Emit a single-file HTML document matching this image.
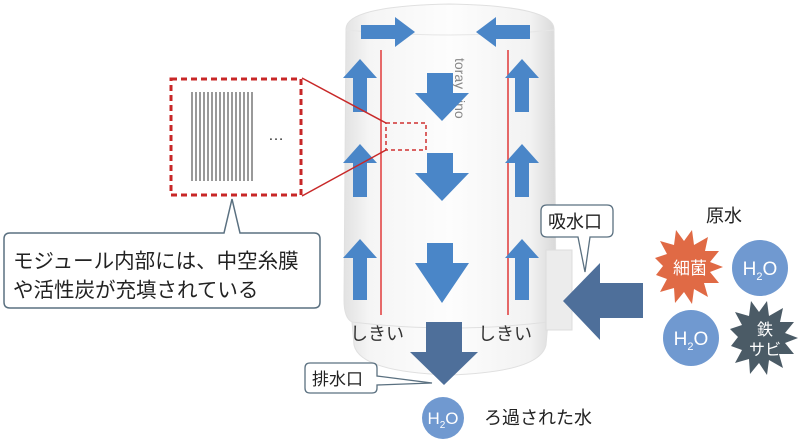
<!DOCTYPE html>
<html><head><meta charset="utf-8"><style>
html,body{margin:0;padding:0;background:#fff}
svg{display:block}
text{font-family:"Liberation Sans","Noto Sans CJK JP",sans-serif}
</style></head><body>
<svg width="800" height="447" viewBox="0 0 800 447" xmlns="http://www.w3.org/2000/svg">
<defs>
<linearGradient id="body" x1="0" x2="1" y1="0" y2="0">
<stop offset="0" stop-color="#e2e2e2"/><stop offset="0.12" stop-color="#f5f5f5"/><stop offset="0.5" stop-color="#fdfdfd"/><stop offset="0.88" stop-color="#f2f2f2"/><stop offset="1" stop-color="#d8d8d8"/>
</linearGradient>
</defs>
<!-- filter body -->
<path d="M346 30 Q344 6 450 4 Q556 6 554 30 L556 300 Q556 318 548 322 L546 345 Q540 372 450 375 Q360 372 354 345 L352 322 Q344 318 344 300 Z" fill="url(#body)" stroke="#e0e0e0"/>
<path d="M346 30 Q450 40 554 30" fill="none" stroke="#e6e6e6"/>
<path d="M352 322 Q450 334 548 322" fill="none" stroke="#e0e0e0"/>
<rect x="546" y="250" width="26" height="80" fill="#ececec" stroke="#ddd"/>
<text x="0" y="0" transform="translate(455,58) rotate(90)" font-size="14" fill="#888">toray vino</text>
<!-- red lines -->
<line x1="381" y1="50" x2="381" y2="315" stroke="#e03a3a" stroke-width="1.5"/>
<line x1="508" y1="50" x2="508" y2="315" stroke="#e03a3a" stroke-width="1.5"/>
<g fill="#4a86c8">
<path d="M361 25 h34 v-8 l20 15 l-20 15 v-8 h-34 z"/>
<path d="M530 25 h-34 v-8 l-20 15 l20 15 v-8 h34 z"/>
<path d="M353 112 v-34 h-10 l17 -19 l17 19 h-10 v34 z"/>
<path d="M353 197 v-34 h-10 l17 -19 l17 19 h-10 v34 z"/>
<path d="M353 300 v-42 h-10 l17 -19 l17 19 h-10 v42 z"/>
<path d="M515 112 v-34 h-10 l17 -19 l17 19 h-10 v34 z"/>
<path d="M515 197 v-34 h-10 l17 -19 l17 19 h-10 v34 z"/>
<path d="M515 300 v-42 h-10 l17 -19 l17 19 h-10 v42 z"/>
<path d="M427 73 h26 v20 h16 l-27 28 l-27 -28 h12 z"/>
<path d="M427 153 h26 v20 h16 l-27 28 l-27 -28 h12 z"/>
<path d="M427 243 h26 v20 h16 l-27 40 l-27 -40 h12 z"/>
</g>
<!-- small dashed rect & connectors -->
<rect x="386" y="123" width="40" height="27" fill="none" stroke="#d03030" stroke-width="1.5" stroke-dasharray="4,3"/>
<line x1="302" y1="78" x2="386" y2="123" stroke="#c82828" stroke-width="1.5"/>
<line x1="302" y1="196" x2="386" y2="150" stroke="#c82828" stroke-width="1.5"/>
<rect x="171" y="79" width="130" height="116" fill="#fff" stroke="#c82828" stroke-width="3" stroke-dasharray="6,4"/>
<g stroke="#333" stroke-width="1">
<line x1="192" y1="92" x2="192" y2="181"/><line x1="196" y1="92" x2="196" y2="181"/><line x1="200" y1="92" x2="200" y2="181"/><line x1="204" y1="92" x2="204" y2="181"/><line x1="208" y1="92" x2="208" y2="181"/><line x1="212" y1="92" x2="212" y2="181"/><line x1="216" y1="92" x2="216" y2="181"/><line x1="220" y1="92" x2="220" y2="181"/><line x1="224" y1="92" x2="224" y2="181"/><line x1="228" y1="92" x2="228" y2="181"/><line x1="232" y1="92" x2="232" y2="181"/><line x1="236" y1="92" x2="236" y2="181"/><line x1="240" y1="92" x2="240" y2="181"/><line x1="244" y1="92" x2="244" y2="181"/><line x1="248" y1="92" x2="248" y2="181"/><line x1="252" y1="92" x2="252" y2="181"/>
</g>
<text x="268" y="140" font-size="16" fill="#333">…</text>
<path d="M10 233 H224 L232 199 L240 233 H314 Q320 233 320 239 V302 Q320 308 314 308 H10 Q4 308 4 302 V239 Q4 233 10 233 Z" fill="#fff" stroke="#5a7080" stroke-width="1.5"/>
<text x="13" y="268" font-size="20.5" fill="#222">モジュール内部には、中空糸膜</text>
<text x="13" y="297" font-size="20.5" fill="#222">や活性炭が充填されている</text>
<text x="350" y="340" font-size="18" fill="#333">しきい</text>
<text x="478" y="340" font-size="18" fill="#333">しきい</text>
<path d="M426 322 h36 v30 h16 l-34 33 l-34 -33 h16 z" fill="#4e6f9a"/>
<path d="M310 363 H372 Q377 363 377 368 V376 L432 383 L377 385 V388 Q377 393 372 393 H310 Q305 393 305 388 V368 Q305 363 310 363 Z" fill="#fff" stroke="#5a7080" stroke-width="1.3"/>
<text x="312" y="385" font-size="17" fill="#222">排水口</text>
<circle cx="443" cy="418" r="21" fill="#7099d0"/>
<text x="443" y="424" font-size="17" fill="#fff" text-anchor="middle">H<tspan font-size="10" dy="4">2</tspan><tspan dy="-4">O</tspan></text>
<text x="484" y="424" font-size="18" fill="#222">ろ過された水</text>
<path d="M643 283 V318 H600 V340 L563 301 L600 263 V283 Z" fill="#4e6f9a"/>
<path d="M547 205 H607 Q613 205 613 211 V231 Q613 237 607 237 H590 L585 272 L578 237 H547 Q541 237 541 231 V211 Q541 205 547 205 Z" fill="#fff" stroke="#5a7080" stroke-width="1.3"/>
<text x="548" y="228" font-size="18" fill="#222">吸水口</text>
<text x="706" y="222" font-size="18" fill="#222">原水</text>
<polygon fill="#e06a45" points="723,267 710,272 719,283 704,283 708,297 694,289 692,304 684,292 675,303 674,288 660,292 667,279 656,275 663,266 655,258 667,254 660,241 674,245 676,230 684,241 692,230 694,245 708,237 705,251 719,251 710,262"/>
<text x="690" y="274" font-size="17" fill="#fff" text-anchor="middle">細菌</text>
<circle cx="760" cy="268" r="28" fill="#7099d0"/>
<text x="760" y="275" font-size="19" fill="#fff" text-anchor="middle">H<tspan font-size="11" dy="5">2</tspan><tspan dy="-5">O</tspan></text>
<circle cx="691" cy="338" r="28" fill="#7099d0"/>
<text x="691" y="345" font-size="19" fill="#fff" text-anchor="middle">H<tspan font-size="11" dy="5">2</tspan><tspan dy="-5">O</tspan></text>
<polygon fill="#4b5b66" points="798,338 785,343 794,354 779,354 783,368 769,360 767,375 759,363 750,374 749,359 735,363 742,350 731,346 738,337 730,329 742,325 735,312 749,316 751,301 759,312 767,301 769,316 783,308 780,322 794,322 785,333"/>
<text x="765" y="335" font-size="16" fill="#fff" text-anchor="middle">鉄</text>
<text x="765" y="355" font-size="16" fill="#fff" text-anchor="middle">サビ</text>
</svg>
</body></html>
